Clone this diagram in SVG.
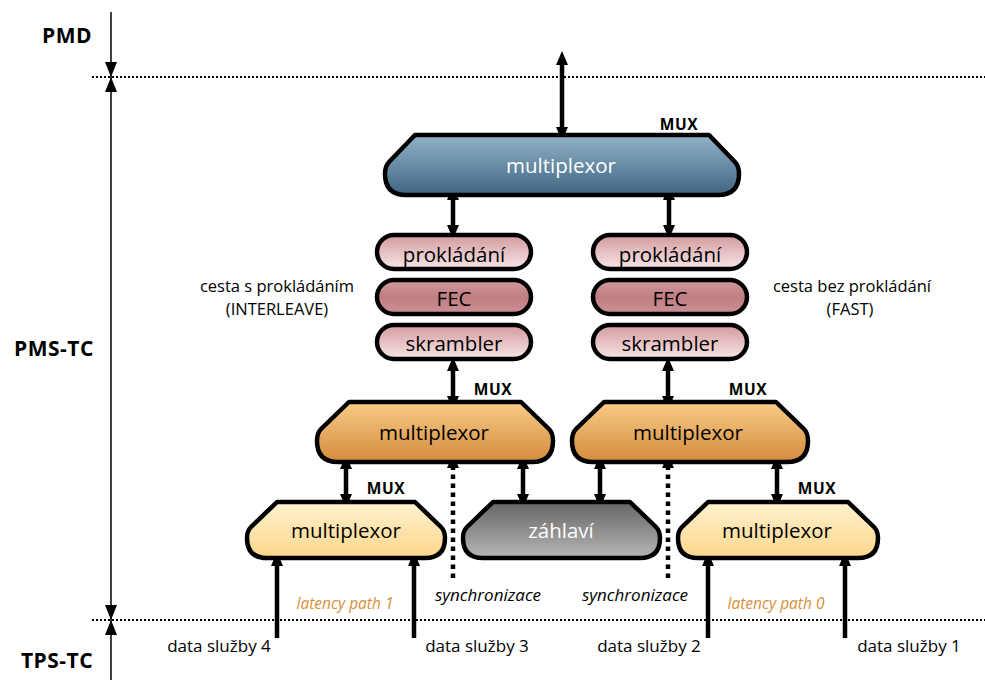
<svg xmlns="http://www.w3.org/2000/svg" width="985" height="680" viewBox="0 0 985 680">
  <defs>
    <linearGradient id="gBlue" x1="0" y1="0" x2="0" y2="1">
      <stop offset="0" stop-color="#92b3c7"/>
      <stop offset="1" stop-color="#3f6584"/>
    </linearGradient>
    <linearGradient id="gOrange" x1="0" y1="0" x2="0" y2="1">
      <stop offset="0" stop-color="#f9cc88"/>
      <stop offset="1" stop-color="#d38b3c"/>
    </linearGradient>
    <linearGradient id="gYellow" x1="0" y1="0" x2="0" y2="1">
      <stop offset="0" stop-color="#fff2cf"/>
      <stop offset="1" stop-color="#fbd68a"/>
    </linearGradient>
    <linearGradient id="gGray" x1="0" y1="0" x2="0" y2="1">
      <stop offset="0" stop-color="#656565"/>
      <stop offset="1" stop-color="#b6b6b6"/>
    </linearGradient>
    <linearGradient id="gPink" x1="0" y1="0" x2="0" y2="1">
      <stop offset="0" stop-color="#d39a9e"/>
      <stop offset="1" stop-color="#f8e6e7"/>
    </linearGradient>
    <linearGradient id="gPinkDark" x1="0" y1="0" x2="0" y2="1">
      <stop offset="0" stop-color="#d19a9d"/>
      <stop offset="0.5" stop-color="#c07e82"/>
      <stop offset="1" stop-color="#cc9094"/>
    </linearGradient>
    <marker id="head" markerUnits="userSpaceOnUse" markerWidth="14" markerHeight="12" refX="6" refY="6" orient="auto-start-reverse">
      <path d="M0,0 L14,6 L0,12 Z" fill="#000"/>
    </marker>
  </defs>
  <style>
    .box { stroke: #000; stroke-width: 4.5; stroke-linejoin: round; }
    .t { font-family: "Open Sans", "Liberation Sans", sans-serif; font-size: 20.5px; text-anchor: middle; fill: #000; }
    .tw { fill: #fff; }
    .lbl { font-family: "Open Sans", "Liberation Sans", sans-serif; font-size: 17px; text-anchor: middle; fill: #000; }
    .side { font-family: "Open Sans", "Liberation Sans", sans-serif; font-size: 16.5px; text-anchor: middle; fill: #000; }
    .layer { font-family: "Open Sans", "Liberation Sans", sans-serif; font-size: 21px; font-weight: bold; text-anchor: middle; letter-spacing: 0.5px; fill: #000; }
    .mux { font-family: "Open Sans", "Liberation Sans", sans-serif; font-size: 15.5px; font-weight: bold; text-anchor: middle; letter-spacing: 0.6px; fill: #000; }
    .it { font-family: "Open Sans", "Liberation Sans", sans-serif; font-style: italic; font-size: 17px; text-anchor: middle; fill: #000; }
    .lat { font-family: "Open Sans", "Liberation Sans", sans-serif; font-style: italic; font-size: 15.5px; text-anchor: middle; fill: #d98f3b; }
    .arrow { stroke: #000; stroke-width: 4.5; fill: none; }
    .dbl { marker-start: url(#head); marker-end: url(#head); }
    .one { marker-end: url(#head); }
    .sync { stroke-dasharray: 4.5 4.5; }
    .sep { stroke: #000; stroke-width: 2; stroke-dasharray: 2 2; fill: none; }
    .axis { stroke: #000; stroke-width: 1.5; fill: none; }
  </style>

  <!-- layer boundaries -->
  <g id="layers">
    <line class="sep" x1="92" y1="77" x2="985" y2="77"/>
    <line class="sep" x1="92" y1="620" x2="985" y2="620"/>
    <line class="axis" x1="111" y1="12" x2="111" y2="680"/>
    <polygon points="105,62 117,62 111,77" fill="#000"/>
    <polygon points="105,92 117,92 111,77" fill="#000"/>
    <polygon points="105,605 117,605 111,620" fill="#000"/>
    <polygon points="105,635 117,635 111,620" fill="#000"/>
    <text class="layer" x="67" y="43">PMD</text>
    <text class="layer" x="54" y="356">PMS-TC</text>
    <text class="layer" x="57" y="668">TPS-TC</text>
  </g>

  <!-- connectors -->
  <g id="connectors">
    <path class="arrow dbl" d="M562,59 V133"/>
    <path class="arrow dbl" d="M453,194 V231"/>
    <path class="arrow dbl" d="M669,194 V231"/>
    <path class="arrow dbl" d="M453,365 V402"/>
    <path class="arrow dbl" d="M668,365 V402"/>
    <path class="arrow dbl" d="M346,463 V500"/>
    <path class="arrow dbl" d="M523,463 V500"/>
    <path class="arrow dbl" d="M600,463 V500"/>
    <path class="arrow dbl" d="M777,463 V500"/>
    <path class="arrow one" d="M277,638 V560"/>
    <path class="arrow one" d="M414,638 V560"/>
    <path class="arrow one" d="M708,638 V560"/>
    <path class="arrow one" d="M845,638 V560"/>
    <path class="arrow one sync" d="M453,578 V462"/>
    <path class="arrow one sync" d="M668,578 V462"/>
  </g>

  <g id="mux-top">
    <path class="box" fill="url(#gBlue)" d="M415,135 H709 L735,162 Q739,166 739,174 Q739,195 718,195 H406 Q385,195 385,174 Q385,166 389,162 Z"/>
    <text class="t tw" x="561" y="173">multiplexor</text>
    <text class="mux" x="679" y="130">MUX</text>
  </g>

  <g id="interleave-path">
    <rect class="box" x="377" y="235" width="154" height="34" rx="17" fill="url(#gPink)"/>
    <text class="t" x="454" y="262">prokládání</text>
    <rect class="box" x="377" y="280" width="154" height="34" rx="17" fill="url(#gPinkDark)"/>
    <text class="t" x="454" y="306">FEC</text>
    <rect class="box" x="377" y="325" width="154" height="34" rx="17" fill="url(#gPink)"/>
    <text class="t" x="454" y="351">skrambler</text>
    <text class="side" x="277" y="292">cesta s prokládáním</text>
    <text class="side" x="277" y="315">(INTERLEAVE)</text>
  </g>

  <g id="fast-path">
    <rect class="box" x="593" y="235" width="154" height="34" rx="17" fill="url(#gPink)"/>
    <text class="t" x="670" y="262">prokládání</text>
    <rect class="box" x="593" y="280" width="154" height="34" rx="17" fill="url(#gPinkDark)"/>
    <text class="t" x="670" y="306">FEC</text>
    <rect class="box" x="593" y="325" width="154" height="34" rx="17" fill="url(#gPink)"/>
    <text class="t" x="670" y="351">skrambler</text>
    <text class="side" x="852" y="292">cesta bez prokládání</text>
    <text class="side" x="850" y="315">(FAST)</text>
  </g>

  <g id="mux-interleave">
    <path class="box" fill="url(#gOrange)" d="M349,402 H521 L549,429 Q553,433 553,441 Q553,462 532,462 H338 Q317,462 317,441 Q317,433 321,429 Z"/>
    <text class="t" x="434" y="440">multiplexor</text>
    <text class="mux" x="493" y="395">MUX</text>
  </g>

  <g id="mux-fast">
    <path class="box" fill="url(#gOrange)" d="M604,402 H776 L804,429 Q808,433 808,441 Q808,462 787,462 H593 Q572,462 572,441 Q572,433 576,429 Z"/>
    <text class="t" x="688" y="440">multiplexor</text>
    <text class="mux" x="748" y="395">MUX</text>
  </g>

  <g id="mux-latency1">
    <path class="box" fill="url(#gYellow)" d="M277,502 H415 L441,527 Q445,531 445,538 Q445,558 425,558 H267 Q247,558 247,538 Q247,531 251,527 Z"/>
    <text class="t" x="346" y="538">multiplexor</text>
    <text class="mux" x="386" y="494">MUX</text>
  </g>

  <g id="header">
    <path class="box" fill="url(#gGray)" d="M493,502 H630 L656,527 Q660,531 660,538 Q660,558 640,558 H483 Q463,558 463,538 Q463,531 467,527 Z"/>
    <text class="t tw" x="561" y="538">záhlaví</text>
  </g>

  <g id="mux-latency0">
    <path class="box" fill="url(#gYellow)" d="M708,502 H848 L874,527 Q878,531 878,538 Q878,558 858,558 H698 Q678,558 678,538 Q678,531 682,527 Z"/>
    <text class="t" x="777" y="538">multiplexor</text>
    <text class="mux" x="817" y="494">MUX</text>
  </g>

  <g id="bottom-labels">
    <text class="it" x="488" y="601">synchronizace</text>
    <text class="it" x="635" y="601">synchronizace</text>
    <text class="lat" x="345" y="609">latency path 1</text>
    <text class="lat" x="776" y="609">latency path 0</text>
    <text class="lbl" x="219" y="652">data služby 4</text>
    <text class="lbl" x="477" y="652">data služby 3</text>
    <text class="lbl" x="649" y="652">data služby 2</text>
    <text class="lbl" x="909" y="652">data služby 1</text>
  </g>
</svg>
